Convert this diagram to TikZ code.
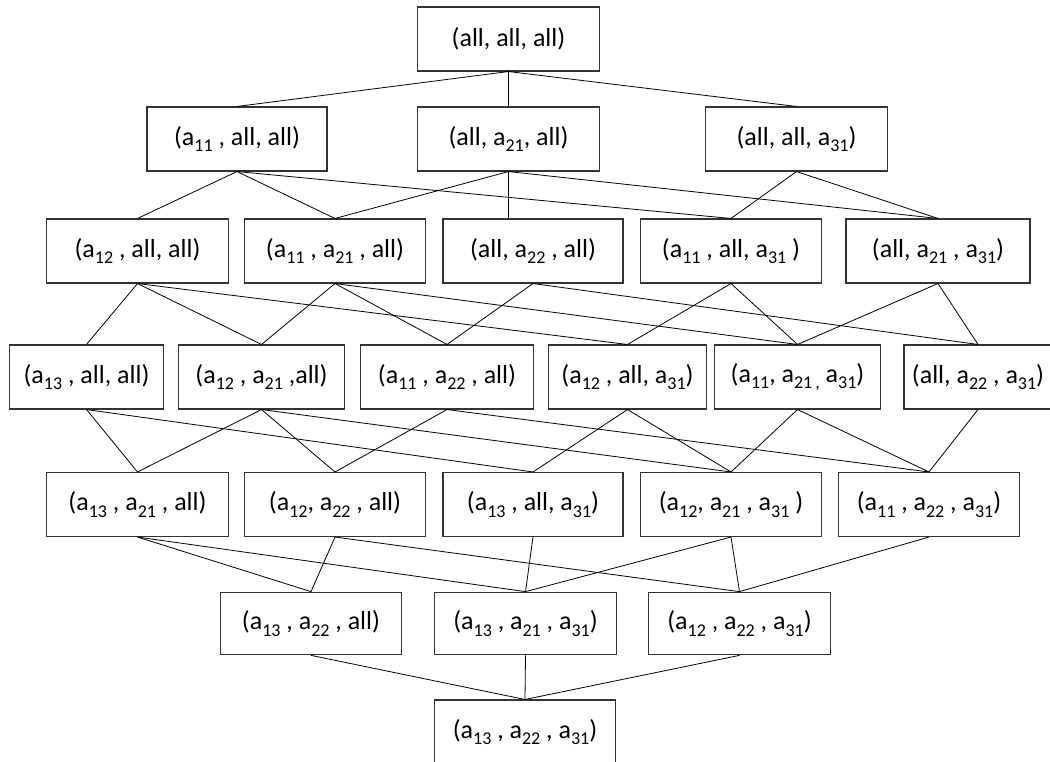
\documentclass[tikz,border=0pt]{standalone}
\usepackage{fontspec}
\setmainfont{Carlito}
% subscript index, set smaller and lowered
\newcommand\ix[1]{\raisebox{-0.24em}{\fontsize{13.5}{13.5}\selectfont #1}}
\begin{document}
\begin{tikzpicture}[x=0.75pt,y=-0.75pt,
  bx/.style={draw=black!80, line width=0.8pt, fill=white, inner sep=0pt,
             minimum height=48pt, font=\fontsize{19.5}{22}\selectfont},
  link/.style={draw=black, line width=0.6pt}]
\useasboundingbox (0,0) rectangle (1050,761);

% level 0
\node[bx, minimum width=136pt] (n000) at (508.5,39) {(all, all, all)};
% level 1
\node[bx, minimum width=135pt] (n100) at (237,139)   {(a\ix{11} , all, all)};
\node[bx, minimum width=136pt] (n010) at (508.5,139) {(all, a\ix{21}, all)};
\node[bx, minimum width=136pt] (n001) at (796.5,139) {(all, all, a\ix{31})};
% level 2
\node[bx, minimum width=136pt] (n200) at (137.5,251) {(a\ix{12} , all, all)};
\node[bx, minimum width=136pt] (n110) at (335,251)   {(a\ix{11} , a\ix{21} , all)};
\node[bx, minimum width=135pt] (n020) at (533,251)   {(all, a\ix{22} , all)};
\node[bx, minimum width=136pt] (n101) at (731,251)   {(a\ix{11} , all, a\ix{31} )};
\node[bx, minimum width=138pt] (n011) at (938,251)   {(all, a\ix{21} , a\ix{31})};
% level 3
\node[bx, minimum width=115pt] (n300) at (86.5,377)  {(a\ix{13} , all, all)};
\node[bx, minimum width=124pt] (n210) at (261.5,377) {(a\ix{12} , a\ix{21} ,all)};
\node[bx, minimum width=130pt] (n120) at (447,377)   {(a\ix{11} , a\ix{22} , all)};
\node[bx, minimum width=118pt] (n201) at (627.5,377) {(a\ix{12} , all, a\ix{31})};
\node[bx, minimum width=124pt] (n111) at (797.5,377) {(a\ix{11}, a\ix{21\,,} a\ix{31})};
\node[bx, minimum width=111pt] (n021) at (978,377)   {(all, a\ix{22} , a\ix{31})};
% level 4
\node[bx, minimum width=136pt] (n310) at (137.5,504.5) {(a\ix{13} , a\ix{21} , all)};
\node[bx, minimum width=136pt] (n220) at (335,504.5)   {(a\ix{12}, a\ix{22} , all)};
\node[bx, minimum width=135pt] (n301) at (533,504.5)   {(a\ix{13} , all, a\ix{31})};
\node[bx, minimum width=136pt] (n211) at (731,504.5)   {(a\ix{12}, a\ix{21} , a\ix{31} )};
\node[bx, minimum width=136pt] (n121) at (929,504.5)   {(a\ix{11} , a\ix{22} , a\ix{31})};
% level 5
\node[bx, minimum width=136pt, minimum height=47pt] (n320) at (311,623.5)   {(a\ix{13} , a\ix{22} , all)};
\node[bx, minimum width=137pt, minimum height=47pt] (n311) at (525.5,623.5) {(a\ix{13} , a\ix{21} , a\ix{31})};
\node[bx, minimum width=136pt, minimum height=47pt] (n221) at (739.5,623.5) {(a\ix{12} , a\ix{22} , a\ix{31})};
% level 6
\node[bx, minimum width=136pt] (n321) at (525,732) {(a\ix{13} , a\ix{22} , a\ix{31})};

% covering relations: refine one coordinate by one step
\foreach \a/\b in {
  n000/n100, n000/n010, n000/n001,
  n100/n200, n100/n110, n100/n101,
  n010/n110, n010/n011,
  n001/n101, n001/n011,
  n200/n300, n200/n210, n200/n201,
  n110/n210, n110/n120, n110/n111,
  n020/n120, n020/n021,
  n101/n201, n101/n111,
  n011/n111, n011/n021,
  n300/n310, n300/n301,
  n210/n310, n210/n220, n210/n211,
  n120/n220, n120/n121,
  n201/n301, n201/n211,
  n111/n211, n111/n121,
  n021/n121,
  n310/n320, n310/n311,
  n220/n320, n220/n221,
  n301/n311,
  n211/n311, n211/n221,
  n121/n221,
  n320/n321, n311/n321, n221/n321}
  \draw[link] (\a.south) -- (\b.north);
% the one straight drop, off the centre of the lower box
\draw[link] (n010.south) -- (n010.south |- n020.north);
\end{tikzpicture}
\end{document}
